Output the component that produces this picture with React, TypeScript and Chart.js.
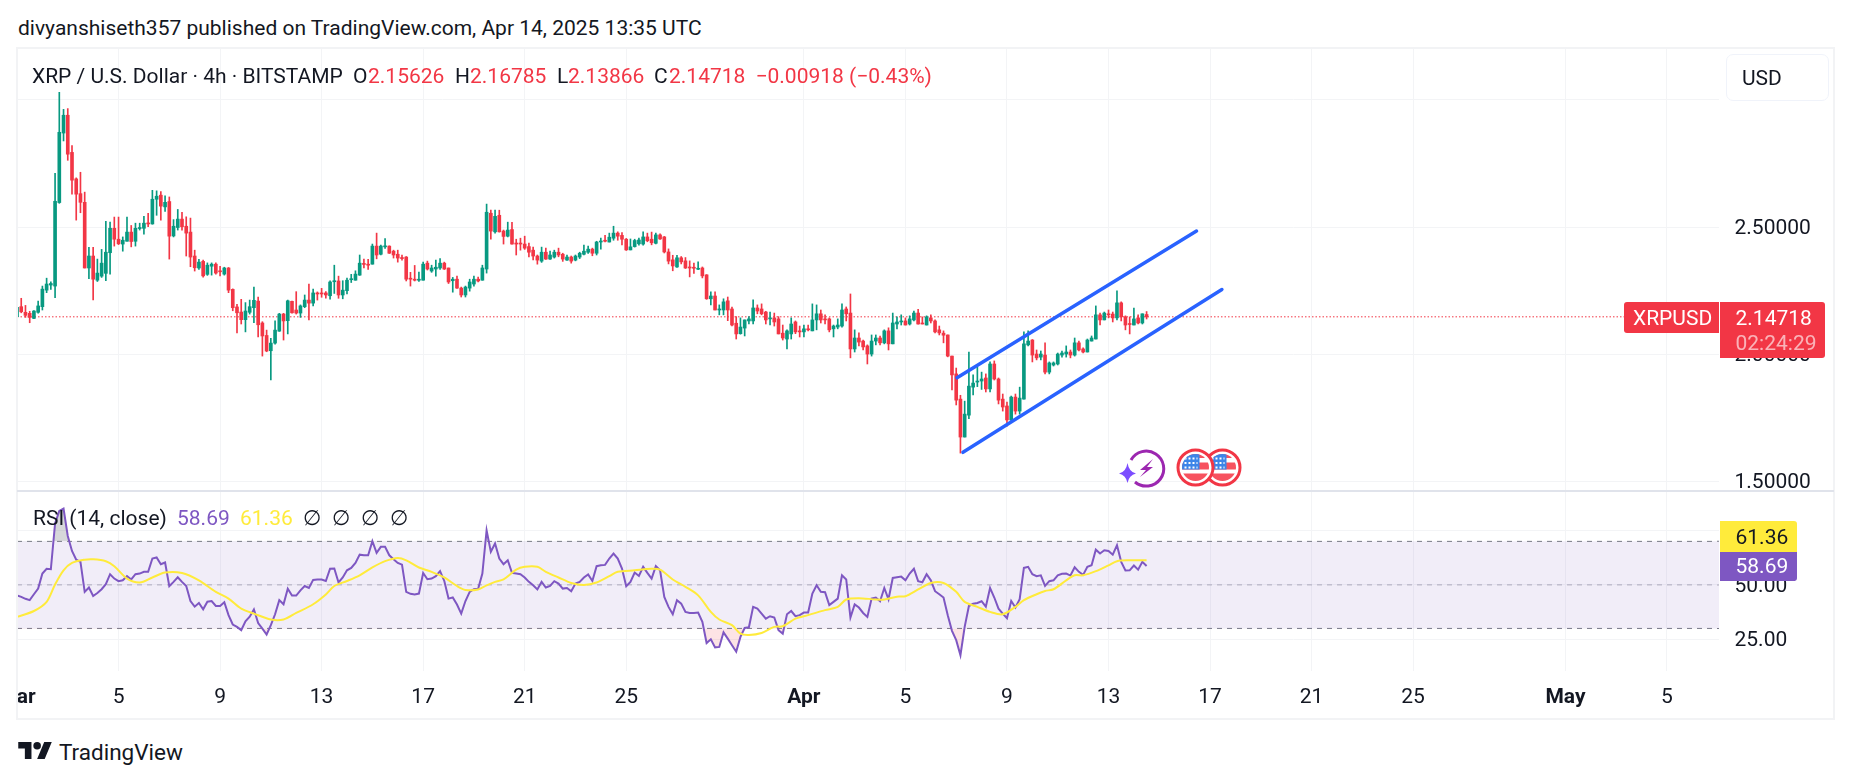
import React, { useEffect, useRef } from 'react';
import { Chart, registerables } from 'chart.js';

Chart.register(...registerables);
Chart.defaults.font.family = 'Roboto';

const UP = '#089981';
const DOWN = '#f23645';
const TEXT = '#131722';
const GRID = '#f3f4f6';
const BLUE = '#2962ff';
const PURPLE = '#7e57c2';
const YELLOW = '#ffeb3b';

// 4h bars, bar 0 = Mar 1 00:00 UTC
const opens = [
  2.148, 2.187, 2.165, 2.161, 2.141, 2.165, 2.187, 2.252, 2.272, 2.268, 2.596, 2.869, 2.939, 2.793, 2.689, 2.631, 2.597, 2.339, 2.386, 2.291,
  2.307, 2.318, 2.399, 2.495, 2.452, 2.433, 2.444, 2.480, 2.444, 2.494, 2.495, 2.516, 2.512, 2.609, 2.625, 2.579, 2.600, 2.465, 2.498, 2.531,
  2.503, 2.480, 2.386, 2.339, 2.365, 2.314, 2.346, 2.354, 2.328, 2.315, 2.339, 2.255, 2.186, 2.166, 2.136, 2.165, 2.183, 2.209, 2.123, 2.074,
  2.014, 2.044, 2.091, 2.158, 2.132, 2.208, 2.174, 2.162, 2.187, 2.213, 2.201, 2.241, 2.241, 2.241, 2.230, 2.285, 2.288, 2.233, 2.250, 2.293,
  2.291, 2.311, 2.357, 2.354, 2.354, 2.425, 2.393, 2.422, 2.425, 2.405, 2.393, 2.380, 2.382, 2.298, 2.295, 2.291, 2.291, 2.358, 2.327, 2.335,
  2.339, 2.358, 2.339, 2.289, 2.295, 2.260, 2.233, 2.260, 2.276, 2.295, 2.291, 2.335, 2.554, 2.481, 2.546, 2.484, 2.464, 2.490, 2.437, 2.437,
  2.433, 2.423, 2.409, 2.386, 2.366, 2.401, 2.374, 2.382, 2.401, 2.393, 2.370, 2.382, 2.370, 2.382, 2.393, 2.401, 2.413, 2.397, 2.441, 2.448,
  2.441, 2.456, 2.476, 2.467, 2.452, 2.410, 2.423, 2.434, 2.433, 2.461, 2.452, 2.436, 2.469, 2.461, 2.402, 2.371, 2.343, 2.379, 2.367, 2.343,
  2.342, 2.334, 2.339, 2.312, 2.218, 2.229, 2.174, 2.174, 2.210, 2.178, 2.122, 2.081, 2.103, 2.131, 2.131, 2.182, 2.178, 2.166, 2.139, 2.143,
  2.139, 2.083, 2.060, 2.080, 2.127, 2.092, 2.088, 2.100, 2.092, 2.135, 2.159, 2.139, 2.139, 2.100, 2.107, 2.111, 2.178, 2.162, 2.021, 2.064,
  2.052, 2.033, 2.001, 2.052, 2.064, 2.045, 2.092, 2.041, 2.119, 2.127, 2.131, 2.119, 2.135, 2.162, 2.123, 2.115, 2.143, 2.131, 2.096, 2.083,
  2.076, 1.993, 1.923, 1.824, 1.675, 1.761, 1.871, 1.891, 1.895, 1.907, 1.864, 1.962, 1.903, 1.824, 1.797, 1.742, 1.832, 1.777, 1.824, 2.037,
  2.056, 2.001, 1.989, 1.997, 1.930, 1.958, 1.962, 1.997, 2.001, 2.009, 1.997, 2.045, 2.021, 2.009, 2.052, 2.060, 2.155, 2.135, 2.158, 2.158,
  2.143, 2.202, 2.147, 2.119, 2.115, 2.143, 2.123, 2.15626,
];
const highs = [
  2.187, 2.220, 2.192, 2.169, 2.172, 2.209, 2.268, 2.299, 2.285, 2.711, 3.029, 2.962, 2.965, 2.820, 2.693, 2.715, 2.637, 2.420, 2.420, 2.374,
  2.412, 2.522, 2.519, 2.539, 2.539, 2.461, 2.539, 2.506, 2.515, 2.515, 2.542, 2.554, 2.644, 2.642, 2.639, 2.622, 2.618, 2.529, 2.569, 2.558,
  2.540, 2.535, 2.409, 2.373, 2.370, 2.359, 2.359, 2.359, 2.346, 2.342, 2.341, 2.257, 2.196, 2.216, 2.203, 2.213, 2.264, 2.225, 2.128, 2.095,
  2.063, 2.131, 2.161, 2.161, 2.213, 2.209, 2.246, 2.194, 2.233, 2.276, 2.256, 2.245, 2.259, 2.246, 2.289, 2.350, 2.307, 2.289, 2.299, 2.314,
  2.328, 2.390, 2.374, 2.373, 2.433, 2.476, 2.429, 2.455, 2.426, 2.409, 2.409, 2.390, 2.384, 2.322, 2.349, 2.323, 2.362, 2.366, 2.350, 2.370,
  2.376, 2.362, 2.339, 2.302, 2.307, 2.264, 2.268, 2.295, 2.307, 2.303, 2.350, 2.590, 2.566, 2.566, 2.566, 2.488, 2.519, 2.518, 2.452, 2.456,
  2.464, 2.437, 2.421, 2.390, 2.421, 2.417, 2.405, 2.409, 2.417, 2.397, 2.390, 2.386, 2.390, 2.401, 2.429, 2.425, 2.417, 2.444, 2.456, 2.467,
  2.476, 2.503, 2.481, 2.478, 2.455, 2.453, 2.452, 2.456, 2.481, 2.476, 2.480, 2.476, 2.473, 2.463, 2.414, 2.389, 2.389, 2.384, 2.380, 2.367,
  2.358, 2.363, 2.343, 2.313, 2.245, 2.245, 2.194, 2.218, 2.225, 2.185, 2.148, 2.143, 2.135, 2.148, 2.214, 2.194, 2.198, 2.169, 2.166, 2.162,
  2.148, 2.115, 2.096, 2.143, 2.131, 2.111, 2.115, 2.115, 2.198, 2.194, 2.174, 2.155, 2.143, 2.115, 2.139, 2.198, 2.186, 2.237, 2.096, 2.084,
  2.056, 2.037, 2.076, 2.076, 2.072, 2.096, 2.104, 2.162, 2.147, 2.155, 2.143, 2.151, 2.170, 2.177, 2.147, 2.151, 2.155, 2.135, 2.111, 2.092,
  2.076, 1.993, 1.946, 1.839, 1.816, 2.009, 1.919, 1.950, 1.930, 1.923, 1.970, 1.974, 1.907, 1.844, 1.812, 1.836, 1.844, 1.871, 2.088, 2.092,
  2.058, 2.017, 2.013, 2.045, 1.970, 1.970, 2.005, 2.013, 2.033, 2.017, 2.064, 2.052, 2.025, 2.060, 2.072, 2.190, 2.162, 2.166, 2.174, 2.166,
  2.249, 2.206, 2.151, 2.147, 2.182, 2.155, 2.159, 2.16785,
];
const lows = [
  2.145, 2.163, 2.145, 2.124, 2.140, 2.162, 2.174, 2.242, 2.255, 2.222, 2.593, 2.838, 2.762, 2.629, 2.527, 2.556, 2.339, 2.297, 2.214, 2.286,
  2.302, 2.289, 2.315, 2.425, 2.431, 2.405, 2.444, 2.422, 2.425, 2.488, 2.472, 2.501, 2.511, 2.546, 2.527, 2.561, 2.374, 2.461, 2.488, 2.488,
  2.386, 2.344, 2.327, 2.333, 2.303, 2.310, 2.311, 2.315, 2.308, 2.311, 2.242, 2.171, 2.084, 2.119, 2.088, 2.158, 2.124, 2.068, 1.993, 2.010,
  1.899, 2.040, 2.090, 2.056, 2.080, 2.162, 2.158, 2.145, 2.183, 2.135, 2.190, 2.213, 2.224, 2.220, 2.217, 2.239, 2.220, 2.218, 2.237, 2.282,
  2.291, 2.310, 2.339, 2.333, 2.354, 2.375, 2.390, 2.416, 2.396, 2.378, 2.362, 2.370, 2.288, 2.268, 2.288, 2.286, 2.291, 2.331, 2.322, 2.307,
  2.333, 2.333, 2.278, 2.244, 2.259, 2.225, 2.225, 2.248, 2.268, 2.284, 2.291, 2.319, 2.452, 2.476, 2.480, 2.433, 2.461, 2.433, 2.390, 2.409,
  2.412, 2.382, 2.371, 2.354, 2.361, 2.373, 2.373, 2.378, 2.383, 2.365, 2.369, 2.358, 2.367, 2.376, 2.390, 2.396, 2.387, 2.390, 2.413, 2.441,
  2.441, 2.448, 2.448, 2.430, 2.408, 2.410, 2.421, 2.429, 2.429, 2.442, 2.430, 2.434, 2.451, 2.398, 2.355, 2.328, 2.341, 2.355, 2.337, 2.304,
  2.318, 2.332, 2.300, 2.216, 2.194, 2.174, 2.155, 2.155, 2.132, 2.111, 2.060, 2.079, 2.072, 2.119, 2.119, 2.159, 2.155, 2.119, 2.115, 2.111,
  2.080, 2.056, 2.021, 2.060, 2.081, 2.068, 2.068, 2.092, 2.092, 2.096, 2.123, 2.119, 2.088, 2.068, 2.100, 2.107, 2.131, 1.986, 2.009, 2.033,
  2.017, 1.962, 1.993, 2.037, 2.037, 2.041, 2.017, 2.041, 2.100, 2.115, 2.115, 2.115, 2.131, 2.118, 2.119, 2.115, 2.123, 2.084, 2.076, 2.045,
  1.990, 1.860, 1.801, 1.612, 1.675, 1.747, 1.840, 1.873, 1.862, 1.852, 1.852, 1.899, 1.805, 1.777, 1.718, 1.738, 1.765, 1.765, 1.824, 2.033,
  1.970, 1.978, 1.978, 1.923, 1.923, 1.954, 1.958, 1.989, 1.989, 1.986, 1.993, 2.013, 2.005, 2.009, 2.052, 2.060, 2.115, 2.135, 2.143, 2.127,
  2.135, 2.131, 2.096, 2.080, 2.115, 2.119, 2.119, 2.13866,
];
const closes = [
  2.184, 2.167, 2.153, 2.145, 2.170, 2.190, 2.256, 2.276, 2.278, 2.601, 2.872, 2.939, 2.786, 2.684, 2.629, 2.597, 2.339, 2.386, 2.295, 2.319,
  2.358, 2.401, 2.495, 2.452, 2.434, 2.448, 2.480, 2.443, 2.495, 2.498, 2.515, 2.512, 2.609, 2.621, 2.582, 2.597, 2.464, 2.503, 2.531, 2.501,
  2.476, 2.382, 2.340, 2.362, 2.308, 2.350, 2.354, 2.319, 2.324, 2.339, 2.252, 2.183, 2.163, 2.136, 2.170, 2.187, 2.212, 2.116, 2.072, 2.013,
  2.044, 2.095, 2.158, 2.131, 2.210, 2.163, 2.162, 2.190, 2.213, 2.201, 2.241, 2.237, 2.237, 2.233, 2.284, 2.289, 2.233, 2.252, 2.291, 2.297,
  2.315, 2.358, 2.353, 2.350, 2.425, 2.390, 2.425, 2.425, 2.397, 2.390, 2.378, 2.376, 2.295, 2.295, 2.291, 2.295, 2.354, 2.335, 2.339, 2.342,
  2.358, 2.335, 2.284, 2.295, 2.260, 2.233, 2.264, 2.284, 2.295, 2.288, 2.339, 2.558, 2.484, 2.542, 2.481, 2.463, 2.488, 2.433, 2.433, 2.433,
  2.417, 2.401, 2.386, 2.370, 2.401, 2.374, 2.390, 2.401, 2.390, 2.374, 2.382, 2.366, 2.386, 2.397, 2.405, 2.413, 2.397, 2.441, 2.444, 2.444,
  2.460, 2.476, 2.464, 2.452, 2.410, 2.422, 2.447, 2.449, 2.461, 2.446, 2.438, 2.469, 2.453, 2.402, 2.366, 2.347, 2.379, 2.363, 2.339, 2.339,
  2.338, 2.338, 2.308, 2.218, 2.229, 2.174, 2.178, 2.206, 2.174, 2.115, 2.080, 2.107, 2.135, 2.139, 2.182, 2.170, 2.159, 2.135, 2.143, 2.127,
  2.080, 2.064, 2.092, 2.119, 2.088, 2.088, 2.100, 2.096, 2.135, 2.159, 2.135, 2.135, 2.096, 2.111, 2.115, 2.174, 2.159, 2.021, 2.064, 2.048,
  2.029, 2.001, 2.052, 2.064, 2.045, 2.092, 2.041, 2.123, 2.127, 2.131, 2.115, 2.139, 2.162, 2.119, 2.119, 2.147, 2.131, 2.088, 2.084, 2.075,
  1.993, 1.919, 1.820, 1.675, 1.765, 1.875, 1.887, 1.895, 1.903, 1.864, 1.962, 1.903, 1.820, 1.793, 1.742, 1.832, 1.777, 1.828, 2.041, 2.052,
  1.997, 1.986, 2.001, 1.930, 1.966, 1.966, 2.001, 2.005, 2.009, 1.997, 2.045, 2.017, 2.009, 2.056, 2.064, 2.155, 2.135, 2.162, 2.155, 2.143,
  2.202, 2.147, 2.115, 2.117, 2.139, 2.123, 2.159, 2.14718,
];
const rsi = [
  45.2, 44.5, 43.6, 43.0, 45.7, 48.3, 55.2, 57.4, 57.2, 78.2, 84.0, 85.1, 72.5, 65.6, 61.6, 60.6, 46.8, 48.8, 44.9, 46.3,
  48.0, 50.3, 54.9, 52.9, 51.7, 52.1, 54.0, 52.5, 54.9, 55.2, 56.0, 56.0, 62.1, 62.6, 59.5, 60.3, 49.4, 51.4, 53.5, 51.4,
  49.5, 42.6, 40.0, 41.7, 38.8, 42.3, 42.6, 40.3, 40.3, 42.0, 36.1, 31.8, 30.7, 29.2, 33.3, 35.4, 38.7, 32.5, 29.9, 27.2,
  31.5, 36.5, 43.0, 41.1, 48.2, 45.1, 45.1, 47.5, 49.5, 48.6, 52.3, 52.5, 52.5, 51.8, 57.4, 57.5, 51.1, 53.4, 56.7, 57.8,
  60.1, 63.9, 63.6, 63.6, 70.1, 64.7, 67.5, 67.5, 63.6, 61.8, 60.1, 59.3, 46.8, 45.9, 45.6, 46.0, 55.5, 52.6, 52.9, 54.0,
  56.3, 51.8, 43.7, 44.2, 41.0, 36.8, 42.6, 46.8, 48.0, 48.2, 55.2, 75.1, 65.2, 69.0, 62.1, 59.5, 61.3, 55.5, 55.2, 54.9,
  53.4, 51.4, 49.8, 47.9, 51.4, 48.8, 49.5, 51.7, 50.6, 48.3, 48.6, 47.1, 50.6, 51.4, 53.4, 54.8, 51.8, 58.6, 59.0, 59.2,
  62.1, 64.4, 62.1, 57.5, 49.4, 51.4, 55.7, 54.1, 58.3, 55.5, 52.9, 58.6, 56.7, 44.5, 39.9, 36.5, 43.0, 41.4, 37.6, 37.1,
  37.1, 37.3, 33.0, 23.3, 25.0, 21.3, 21.5, 28.2, 25.3, 22.3, 19.3, 26.1, 30.2, 30.5, 39.9, 39.1, 36.8, 34.5, 35.6, 35.0,
  29.2, 27.6, 36.5, 38.0, 35.6, 36.1, 37.3, 37.3, 46.0, 49.8, 46.8, 46.6, 40.7, 42.2, 43.7, 54.4, 52.5, 35.0, 41.0, 39.6,
  37.1, 35.3, 43.7, 44.2, 42.5, 48.6, 43.4, 53.2, 53.5, 53.8, 52.1, 55.2, 57.4, 51.7, 51.2, 54.9, 52.1, 47.1, 45.7, 44.2,
  36.1, 28.9, 24.6, 17.7, 30.7, 40.3, 41.3, 41.7, 42.5, 40.0, 48.6, 44.2, 39.1, 36.8, 34.7, 42.6, 39.6, 43.4, 57.8, 58.3,
  54.9, 54.0, 54.4, 49.5, 51.7, 52.1, 54.4, 55.1, 55.2, 54.3, 58.1, 56.0, 54.6, 58.3, 59.0, 66.2, 64.4, 65.9, 65.6, 63.9,
  68.2, 60.6, 56.6, 56.7, 58.9, 57.0, 60.6, 58.69,
];
// moving average read at the bars where its shape turns
const rsiMaBars = [
  0, 4, 7, 9, 11, 13, 16, 18, 21, 23, 26, 29, 32, 35, 39, 43, 47, 50, 53, 56, 60, 63, 66, 70, 73, 75, 78, 81, 84, 87, 90, 92, 95, 98, 101, 104, 106, 109, 111, 113, 115, 118, 120, 123, 125, 128, 131, 134, 137, 140,
  142, 146, 150, 152, 155, 158, 161, 164, 166, 169, 171, 173, 176, 179, 181, 184, 187, 191, 194, 196, 199, 203, 205, 208, 210, 213, 216, 219, 222, 224, 227, 230, 233, 236, 238, 241, 243, 245, 248, 250, 252, 255, 258, 260, 263, 267,
];
const rsiMaValues = [
  35.3, 38.0, 42.2, 50.2, 56.7, 60.1, 61.6, 61.8, 60.9, 58.6, 52.9, 51.1, 53.4, 55.7, 55.5, 52.1, 46.8, 43.7, 39.1, 36.8, 34.1, 34.1, 37.1, 41.1, 45.6, 49.5, 51.8, 54.4, 58.0, 60.9, 62.4, 61.3, 58.0, 56.0, 53.4, 49.5, 47.7, 47.9, 49.8, 51.4, 52.5, 57.0, 58.3, 58.3, 56.0, 53.4, 50.9, 50.0, 51.1, 54.0,
  56.0, 56.7, 57.4, 57.0, 52.5, 49.1, 45.2, 37.6, 34.1, 31.5, 27.6, 27.0, 27.9, 30.7, 31.0, 34.5, 36.1, 38.4, 39.9, 43.3, 43.9, 43.3, 43.3, 44.6, 44.8, 47.9, 50.9, 50.9, 46.8, 42.2, 39.9, 37.6, 36.5, 39.9, 43.0, 45.7, 47.2, 48.0, 52.1, 54.4, 54.4, 56.3, 59.0, 60.9, 61.3, 61.36,
];

const channelUpperBars = [222.2, 278.8];
const channelUpperPrices = [1.908, 2.484];
const channelLowerBars = [223.6, 284.8];
const channelLowerPrices = [1.615, 2.2545];

const lastPrice = 2.14718;
const lastBarAxisEnd = 402.3;

const xTickBars = [0, 24, 48, 72, 96, 120, 144, 186, 210, 234, 258, 282, 306, 330, 366, 390];
const xTickLabels = ['Mar', '5', '9', '13', '17', '21', '25', 'Apr', '5', '9', '13', '17', '21', '25', 'May', '5'];
const priceTicks = [1.5, 2, 2.5, 3];
const priceTickLabels = ['1.50000', '2.00000', '2.50000', ''];
const rsiTicks = [25, 50, 75];
const rsiTickLabels = ['25.00', '50.00', '75.00'];
const rsiBands = [70, 50, 30];

const FONT_SIZE = 21;

// the plot has to fill the canvas exactly, so no label padding from the scales
const noScalePadding = (scale: any) => {
  scale.paddingLeft = 0;
  scale.paddingRight = 0;
  scale.paddingTop = 0;
  scale.paddingBottom = 0;
};

const xScale = (showLabels: boolean) => ({
  type: 'linear' as const,
  min: 0,
  max: lastBarAxisEnd,
  offset: false,
  grid: { color: GRID, offset: false, tickLength: 0 },
  border: { display: false },
  afterBuildTicks: (scale: any) => {
    scale.ticks = xTickBars.map((value) => ({ value }));
  },
  afterFit: (scale: any) => {
    scale.height = showLabels ? 49 : 0;
    noScalePadding(scale);
  },
  ticks: {
    display: showLabels,
    autoSkip: false,
    maxRotation: 0,
    padding: 14,
    color: TEXT,
    font: (ctx: any) => ({
      size: FONT_SIZE,
      weight: isNaN(Number(xTickLabels[ctx.index])) ? 'bold' : 'normal',
    }),
    callback: (_v: any, i: number) => xTickLabels[i],
  },
});

const yScale = (min: number, max: number, ticks: number[], labels: string[]) => ({
  position: 'right' as const,
  min,
  max,
  stacked: false,
  beginAtZero: false,
  grid: { color: GRID, tickLength: 0 },
  border: { display: false },
  afterBuildTicks: (scale: any) => {
    scale.ticks = ticks.map((value) => ({ value }));
  },
  afterFit: (scale: any) => {
    scale.width = 115;
    noScalePadding(scale);
  },
  ticks: {
    autoSkip: false,
    padding: 15.5,
    labelOffset: 1.5,
    color: TEXT,
    font: { size: FONT_SIZE },
    callback: (_v: any, i: number) => labels[i],
  },
});

const baseOptions = {
  responsive: false,
  animation: false as const,
  devicePixelRatio: 1,
  events: [],
  layout: { padding: 0, autoPadding: false },
  plugins: { legend: { display: false }, tooltip: { enabled: false } },
  elements: { point: { radius: 0 }, line: { tension: 0 } },
};

const barColors = closes.map((c, i) => (c >= opens[i] ? UP : DOWN));

function flatLine(value: number) {
  return [
    { x: 0, y: value },
    { x: lastBarAxisEnd, y: value },
  ];
}

function useCharts(priceRef: React.RefObject<HTMLCanvasElement | null>, rsiRef: React.RefObject<HTMLCanvasElement | null>) {
  useEffect(() => {
    const priceChart = new Chart(priceRef.current!, {
      type: 'bar',
      data: {
        datasets: [
          {
            type: 'line',
            data: channelUpperBars.map((x, i) => ({ x, y: channelUpperPrices[i] })),
            borderColor: BLUE,
            borderWidth: 3.5,
            borderCapStyle: 'round',
            order: 0,
          },
          {
            type: 'line',
            data: channelLowerBars.map((x, i) => ({ x, y: channelLowerPrices[i] })),
            borderColor: BLUE,
            borderWidth: 3.5,
            borderCapStyle: 'round',
            order: 0,
          },
          {
            data: opens.map((o, i) => ({ x: i, y: [o, closes[i]] })),
            backgroundColor: barColors,
            barThickness: 3,
            grouped: false,
            minBarLength: 1,
            order: 1,
          },
          {
            data: lows.map((l, i) => ({ x: i, y: [l, highs[i]] })),
            backgroundColor: barColors,
            barThickness: 1,
            grouped: false,
            order: 2,
          },
          {
            type: 'line',
            data: flatLine(lastPrice),
            borderColor: DOWN,
            borderWidth: 1,
            borderDash: [1.5, 2],
            order: 3,
          },
        ],
      } as any,
      options: {
        ...baseOptions,
        scales: { x: xScale(false), y: yScale(1.467, 3.207, priceTicks, priceTickLabels) },
      } as any,
    });

    const rsiPoints = rsi.map((y, x) => ({ x, y }));
    const rsiChart = new Chart(rsiRef.current!, {
      type: 'line',
      data: {
        datasets: [
          {
            data: rsiMaBars.map((x, i) => ({ x, y: rsiMaValues[i] })),
            borderColor: YELLOW,
            borderWidth: 2,
            tension: 0.3,
            order: 0,
          },
          {
            data: rsiPoints,
            borderColor: PURPLE,
            borderWidth: 2,
            fill: { target: { value: rsiBands[2] }, above: 'transparent', below: 'rgba(242,54,69,0.14)' },
            order: 1,
          },
          {
            data: rsiPoints,
            borderWidth: 0,
            fill: { target: { value: rsiBands[0] }, above: 'rgba(120,123,134,0.3)', below: 'transparent' },
            order: 2,
          },
          {
            data: flatLine(rsiBands[0]),
            borderColor: '#787b86',
            borderWidth: 1,
            borderDash: [5, 5],
            backgroundColor: 'rgba(126,87,194,0.11)',
            fill: '+2',
            order: 3,
          },
          {
            data: flatLine(rsiBands[1]),
            borderColor: 'rgba(120,123,134,0.55)',
            borderWidth: 1,
            borderDash: [5, 5],
            order: 4,
          },
          {
            data: flatLine(rsiBands[2]),
            borderColor: '#787b86',
            borderWidth: 1,
            borderDash: [5, 5],
            order: 5,
          },
        ],
      } as any,
      options: {
        ...baseOptions,
        scales: { x: xScale(true), y: yScale(10.43, 93.15, rsiTicks, rsiTickLabels) },
      } as any,
    });

    return () => {
      priceChart.destroy();
      rsiChart.destroy();
    };
  }, []);
}

const abs = (left: number, top: number, width: number, height: number): React.CSSProperties => ({
  position: 'absolute',
  left,
  top,
  width,
  height,
  boxSizing: 'border-box',
});

// text placed by its left edge and vertical centre
function Label(props: { x: number; y: number; color?: string; size?: number; children: React.ReactNode }) {
  return (
    <span
      style={{
        position: 'absolute',
        left: props.x,
        top: props.y,
        transform: 'translateY(-50%)',
        color: props.color ?? TEXT,
        fontSize: props.size ?? FONT_SIZE,
        lineHeight: 1,
        whiteSpace: 'pre',
      }}
    >
      {props.children}
    </span>
  );
}

function FlagIcon({ cx, cy }: { cx: number; cy: number }) {
  return (
    <g>
      <circle cx={cx} cy={cy} r={17.5} fill="#fff" stroke={DOWN} strokeWidth={3} />
      <clipPath id={`flag${cx}`}>
        <circle cx={cx} cy={cy} r={13.5} />
      </clipPath>
      <g clipPath={`url(#flag${cx})`}>
        <rect x={cx - 14} y={cy - 14} width={28} height={4.5} fill="#f7525f" />
        <rect x={cx - 14} y={cy - 5} width={28} height={7} fill="#f7525f" />
        <rect x={cx - 14} y={cy + 6} width={28} height={8} fill="#f7525f" />
        <rect x={cx - 14} y={cy - 14} width={18} height={16} fill="#3d85e8" />
        <path d={`M${cx - 11} ${cy - 9}h13M${cx - 11} ${cy - 4.5}h13M${cx - 11} ${cy}h13`} stroke="#fff" strokeWidth={2} strokeDasharray="2 2" />
      </g>
    </g>
  );
}

function EventIcons() {
  return (
    <svg style={abs(1110, 440, 140, 50)} viewBox="1110 440 140 50">
      <path d="M1131 460 A17.5 17.5 0 1 1 1135 482" fill="none" stroke="#9c27b0" strokeWidth={3} />
      <path d="M1153 459 L1140 470 L1146 470 L1140 477 L1153 467 L1147 467 Z" fill="#9c27b0" />
      <path d="M1127.5 463 Q1129 472 1136 473.5 Q1129 475 1127.5 483 Q1126 475 1119 473.5 Q1126 472 1127.5 463Z" fill="#7c4dff" />
      <FlagIcon cx={1222.5} cy={467.5} />
      <FlagIcon cx={1195.5} cy={467.5} />
    </svg>
  );
}

export default function App() {
  const priceRef = useRef<HTMLCanvasElement | null>(null);
  const rsiRef = useRef<HTMLCanvasElement | null>(null);
  useCharts(priceRef, rsiRef);

  return (
    <div style={{ ...abs(0, 0, 1852, 781), background: '#fff', overflow: 'hidden', fontFamily: 'Roboto' }}>
      <Label x={18} y={28}>divyanshiseth357 published on TradingView.com, Apr 14, 2025 13:35 UTC</Label>

      <canvas ref={priceRef} width={1817} height={443} style={abs(17, 47, 1817, 443)} />
      <canvas ref={rsiRef} width={1817} height={229} style={abs(17, 491, 1817, 229)} />

      <div style={{ ...abs(16, 47, 1819, 673), border: '2px solid #f2f3f5' }} />
      <div style={{ ...abs(17, 490, 1817, 2), background: '#e0e3eb' }} />

      <Label x={32} y={75.5}>XRP / U.S. Dollar · 4h · BITSTAMP</Label>
      <Label x={353} y={75.5}>O</Label>
      <Label x={368} y={75.5} color={DOWN}>2.15626</Label>
      <Label x={455} y={75.5}>H</Label>
      <Label x={470} y={75.5} color={DOWN}>2.16785</Label>
      <Label x={557} y={75.5}>L</Label>
      <Label x={568} y={75.5} color={DOWN}>2.13866</Label>
      <Label x={654} y={75.5}>C</Label>
      <Label x={669} y={75.5} color={DOWN}>2.14718</Label>
      <Label x={755.5} y={75.5} color={DOWN}>−0.00918 (−0.43%)</Label>

      <div style={{ ...abs(1726, 54, 103, 47), background: '#fff', border: '1px solid #f0f3fa', borderRadius: 7 }} />
      <Label x={1742} y={77.5}>USD</Label>

      <div style={{ ...abs(1624, 302, 95, 31), background: DOWN, borderRadius: '3px 0 0 3px' }} />
      <Label x={1633} y={317.5} color="#fff">XRPUSD</Label>
      <div style={{ ...abs(1720, 302, 105, 56), background: DOWN, borderRadius: '0 3px 3px 0' }} />
      <Label x={1735.5} y={317.5} color="#fff">2.14718</Label>
      <Label x={1735.5} y={343} color="rgba(255,255,255,0.62)">02:24:29</Label>

      <div style={{ ...abs(1720, 521, 77, 31), background: YELLOW, borderRadius: '0 3px 0 0' }} />
      <Label x={1735.5} y={537} color={TEXT}>61.36</Label>
      <div style={{ ...abs(1720, 552, 77, 29), background: PURPLE, borderRadius: '0 0 3px 0' }} />
      <Label x={1735.5} y={566} color="#fff">58.69</Label>

      <Label x={33} y={518}>RSI (14, close)</Label>
      <Label x={177} y={518} color={PURPLE}>58.69</Label>
      <Label x={240} y={518} color={YELLOW}>61.36</Label>
      {[303, 332, 361, 390].map((x) => (
        <Label key={x} x={x} y={518}>∅</Label>
      ))}

      <EventIcons />

      <svg style={abs(18, 742, 34.5, 17)} viewBox="0 4 36 18">
        <path d="M14 22H7V11H0V4h14v18zM28 22h-8l7.5-18h8L28 22z" fill="#131722" />
        <circle cx={20} cy={8} r={4} fill="#131722" />
      </svg>
      <Label x={59} y={752} size={22.5}>TradingView</Label>
    </div>
  );
}
